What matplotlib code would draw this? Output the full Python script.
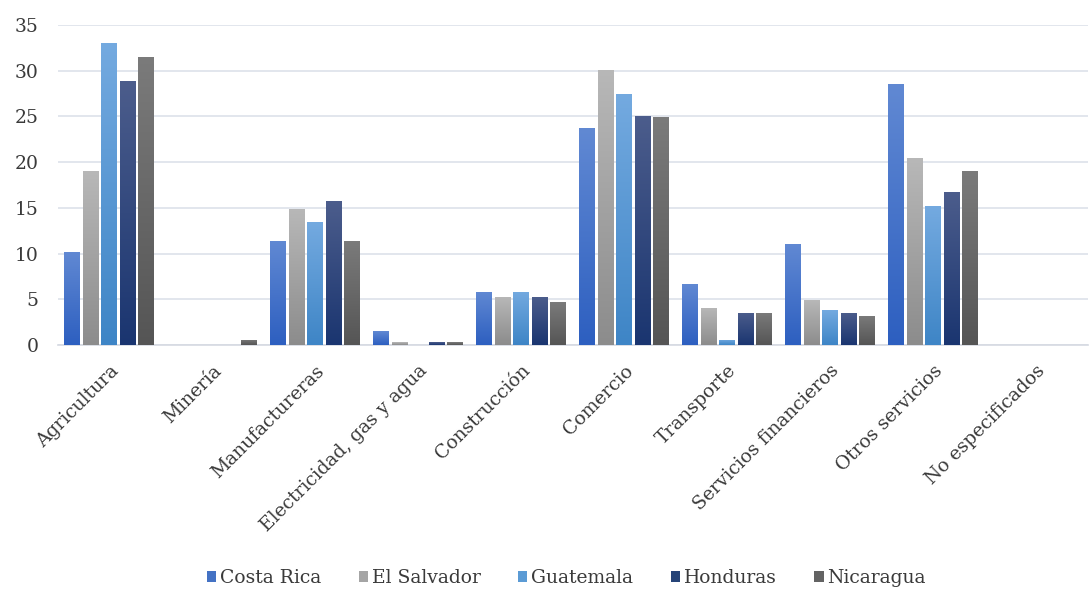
import matplotlib
matplotlib.use("Agg")
import matplotlib.pyplot as plt
import numpy as np
from matplotlib.colors import LinearSegmentedColormap
from matplotlib.patches import Patch

categories = ["Agricultura", "Minería", "Manufactureras", "Electricidad, gas y agua",
              "Construcción", "Comercio", "Transporte", "Servicios financieros",
              "Otros servicios", "No especificados"]
series_names = ["Costa Rica", "El Salvador", "Guatemala", "Honduras", "Nicaragua"]
costa_rica  = [10.2, 0.0, 11.4, 1.5, 5.8, 23.7, 6.7, 11.1, 28.6, 0.0]
el_salvador = [19.0, 0.0, 14.9, 0.3, 5.3, 30.1, 4.1, 4.9, 20.4, 0.0]
guatemala   = [33.0, 0.0, 13.4, 0.0, 5.8, 27.4, 0.6, 3.8, 15.2, 0.0]
honduras    = [28.9, 0.0, 15.7, 0.3, 5.3, 25.1, 3.5, 3.5, 16.7, 0.0]
nicaragua   = [31.5, 0.6, 11.4, 0.3, 4.7, 24.9, 3.5, 3.2, 19.0, 0.0]
series = [costa_rica, el_salvador, guatemala, honduras, nicaragua]
yticks = [0, 5, 10, 15, 20, 25, 30, 35]

legend_colors = ["#4472C4", "#A5A5A5", "#5B9BD5", "#264478", "#636363"]
grad_top = ["#6189D3", "#B8B8B8", "#74AAE0", "#4C5D8C", "#7B7B7B"]
grad_bot = ["#2D5FC0", "#8C8C8C", "#3E85C6", "#1A3570", "#555555"]

serif = ["DejaVu Serif", "Liberation Serif"]
txt_color = "#3A3A3A"
fs = 13.5

fig = plt.figure(figsize=(10.91, 5.92), dpi=100)
ax = fig.add_axes([0.053, 0.4172, 0.944, 0.5406])

x = np.arange(len(categories))
step = 0.18
width = 0.155
grad = np.linspace(0, 1, 256).reshape(-1, 1)
for i, vals in enumerate(series):
    offs = (i - 2) * step
    bars = ax.bar(x + offs, vals, width=width, color=legend_colors[i],
                  edgecolor="none", zorder=2)
    cmap = LinearSegmentedColormap.from_list("g%d" % i, [grad_bot[i], grad_top[i]])
    for b, v in zip(bars, vals):
        if v <= 0:
            continue
        x0 = b.get_x()
        im = ax.imshow(grad, extent=[x0, x0 + width, 0, v], origin="lower",
                       cmap=cmap, aspect="auto", zorder=3, interpolation="bilinear")
        im.set_clip_path(b)

ax.set_xlim(-0.5, len(categories) - 0.5)
ax.set_ylim(0, 35)
ax.set_yticks(yticks)
ax.set_yticklabels([str(t) for t in yticks], fontsize=fs, family=serif, color=txt_color)
ax.yaxis.grid(True, color="#DDE1EA", linewidth=1.2, zorder=0)
ax.set_axisbelow(True)
for s in ["top", "right", "left"]:
    ax.spines[s].set_visible(False)
ax.spines["bottom"].set_color("#D5D9E2")
ax.spines["bottom"].set_linewidth(1.2)
ax.tick_params(axis="both", length=0)
ax.tick_params(axis="y", pad=14)

ax.set_xticks(x)
ax.set_xticklabels(categories, rotation=45, ha="right", rotation_mode="anchor",
                   fontsize=fs, family=serif, color=txt_color)
ax.tick_params(axis="x", pad=12)

handles = [Patch(facecolor=c, edgecolor="none") for c in legend_colors]
fig.legend(handles, series_names, loc="center", bbox_to_anchor=(0.519, 0.024),
           ncol=5, frameon=False, prop={"family": serif, "size": fs},
           handlelength=0.5, handleheight=0.55, handletextpad=0.2, columnspacing=2.0,
           labelcolor=txt_color)

fig.savefig("out.png", dpi=100)
